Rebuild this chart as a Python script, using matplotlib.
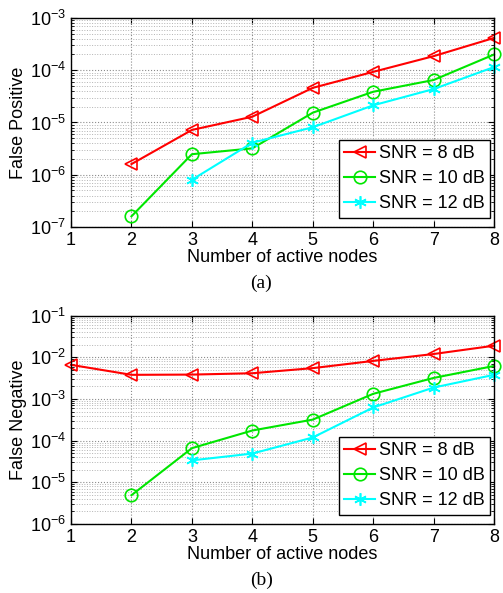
import numpy as np
import matplotlib
matplotlib.use("Agg")
import matplotlib.pyplot as plt

plt.rcParams['font.family'] = ['Liberation Sans', 'DejaVu Sans']
plt.rcParams['mathtext.fontset'] = 'custom'
plt.rcParams['mathtext.rm'] = 'Liberation Sans'
plt.rcParams['mathtext.it'] = 'Liberation Sans'

# datos
nodos = [1, 2, 3, 4, 5, 6, 7, 8]
etiquetas = ["SNR = 8 dB", "SNR = 10 dB", "SNR = 12 dB"]

# (a) falsos positivos
fp_8db = [np.nan, 1.6e-6, 7.2e-6, 1.29e-5, 4.6e-5, 9.3e-5, 1.86e-4, 4.15e-4]
fp_10db = [np.nan, 1.6e-7, 2.47e-6, 3.2e-6, 1.54e-5, 3.87e-5, 6.5e-5, 2.0e-4]
fp_12db = [np.nan, np.nan, 8.0e-7, 4.1e-6, 8.1e-6, 2.13e-5, 4.36e-5, 1.15e-4]

# (b) falsos negativos
fn_8db = [6.6e-3, 3.8e-3, 3.85e-3, 4.15e-3, 5.5e-3, 8.2e-3, 1.2e-2, 1.9e-2]
fn_10db = [np.nan, 4.9e-6, 6.6e-5, 1.75e-4, 3.2e-4, 1.33e-3, 3.2e-3, 6.2e-3]
fn_12db = [np.nan, np.nan, 3.36e-5, 4.9e-5, 1.19e-4, 6.25e-4, 1.88e-3, 3.8e-3]

estilos = [dict(color='red', marker='<'),
           dict(color=(0, 0.9, 0), marker='o'),
           dict(color=(0, 1, 1), marker=(6, 2, 0))]


def dibuja(ax, series, ylim, ylabel, letra):
    for y, est, lab in zip(series, estilos, etiquetas):
        ax.plot(nodos, y, color=est['color'], marker=est['marker'], markersize=9,
                markerfacecolor='none' if est['marker'] != (6, 2, 0) else est['color'],
                markeredgewidth=1.2, linewidth=1.5, label=lab, clip_on=False)
    ax.set_yscale('log')
    ax.set_xlim(1, 8)
    ax.set_ylim(*ylim)
    ax.set_xticks(nodos)
    ax.grid(True, which='major', linestyle=':', color='0.55', linewidth=0.8)
    ax.grid(True, which='minor', linestyle=':', color='0.7', linewidth=0.7)
    ax.tick_params(which='both', direction='in', top=True, right=True, labelsize=13)
    ax.tick_params(which='major', length=4)
    ax.tick_params(which='minor', length=2)
    ax.set_xlabel("Number of active nodes", fontsize=13, labelpad=0)
    ax.set_ylabel(ylabel, fontsize=13, labelpad=2)
    for s in ax.spines.values():
        s.set_linewidth(1.0)
    leg = ax.legend(loc='lower right', bbox_to_anchor=(0.99, 0.045), fontsize=13,
                    fancybox=False, edgecolor='black', framealpha=1,
                    handlelength=1.7, handletextpad=0.2, borderpad=0.3,
                    labelspacing=0.45, borderaxespad=0)
    leg.get_frame().set_linewidth(1.0)
    ax.text(0.45, -0.27, letra, transform=ax.transAxes, ha='center', va='center',
            fontsize=14, family='Liberation Serif')


fig = plt.figure(figsize=(5.03, 5.93), dpi=100)
ax1 = fig.add_axes([0.1412, 0.6172, 0.841, 0.3525])
ax2 = fig.add_axes([0.1412, 0.1164, 0.841, 0.3513])

dibuja(ax1, [fp_8db, fp_10db, fp_12db], (1e-7, 1e-3), "False Positive", "(a)")
dibuja(ax2, [fn_8db, fn_10db, fn_12db], (1e-6, 1e-1), "False Negative", "(b)")

fig.savefig("out.png", dpi=100)
